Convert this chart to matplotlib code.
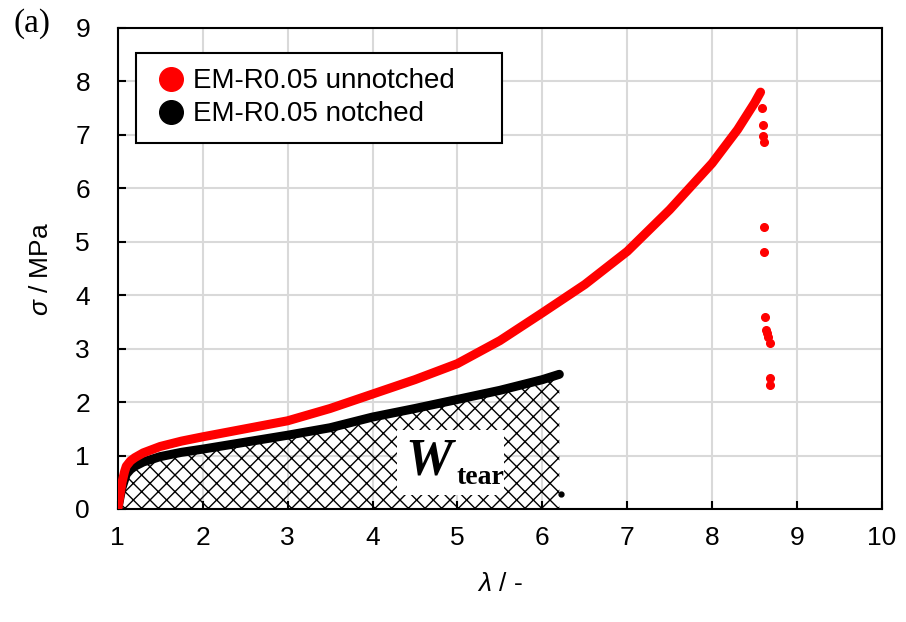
import numpy as np
import matplotlib
matplotlib.use("Agg")
from matplotlib import pyplot as plt
from matplotlib.lines import Line2D
from matplotlib.patches import Rectangle

plt.rcParams['font.family'] = ['Liberation Sans', 'DejaVu Sans']
plt.rcParams['mathtext.fontset'] = 'custom'
plt.rcParams['mathtext.rm'] = 'Liberation Sans'
plt.rcParams['mathtext.it'] = 'Liberation Sans:italic'

# ---- data ----
unnotched_lam = [1.0, 1.03, 1.05, 1.08, 1.1, 1.15, 1.2, 1.3, 1.5, 1.75, 2.0, 2.5, 3.0, 3.5, 4.0,
                 4.5, 5.0, 5.5, 6.0, 6.5, 7.0, 7.5, 8.0, 8.3, 8.5, 8.57]
unnotched_sig = [0.0, 0.3, 0.5, 0.7, 0.8, 0.9, 0.96, 1.05, 1.17, 1.27, 1.35, 1.5, 1.65, 1.88, 2.15,
                 2.42, 2.72, 3.15, 3.67, 4.2, 4.82, 5.6, 6.47, 7.1, 7.6, 7.8]
break_lam = [8.59, 8.6, 8.6, 8.61, 8.61, 8.61, 8.62, 8.63, 8.64, 8.66, 8.68, 8.68, 8.68]
break_sig = [7.5, 7.19, 6.97, 6.87, 5.28, 4.8, 3.6, 3.35, 3.3, 3.22, 3.1, 2.45, 2.32]

notched_lam = [1.0, 1.03, 1.05, 1.08, 1.1, 1.15, 1.2, 1.3, 1.5, 1.75, 2.0, 2.5, 3.0, 3.5, 4.0,
               4.5, 5.0, 5.5, 6.0, 6.2]
notched_sig = [0.0, 0.25, 0.4, 0.55, 0.65, 0.74, 0.8, 0.88, 0.98, 1.06, 1.12, 1.25, 1.38, 1.52, 1.72,
               1.88, 2.05, 2.22, 2.42, 2.52]
notched_end_lam = [6.22]
notched_end_sig = [0.28]

fig = plt.figure(figsize=(9.06, 6.22), dpi=100)
ax = fig.add_axes([0.130, 0.1817, 0.8435, 0.7733])

# hatched tearing energy area under the notched curve
lam = np.array(notched_lam)
sig = np.array(notched_sig)
ax.fill_between(lam, sig, 0, facecolor='none', edgecolor='black', hatch='xx', linewidth=0, zorder=2)

ax.plot(unnotched_lam, unnotched_sig, color='#ff0000', lw=6.5, solid_capstyle='round', zorder=4)
ax.plot(break_lam, break_sig, 'o', color='#ff0000', ms=5.5, zorder=4)
ax.plot(notched_lam, notched_sig, color='black', lw=6.5, solid_capstyle='round', zorder=3)
ax.plot(notched_end_lam, notched_end_sig, 'o', color='black', ms=3.5, zorder=3)

# W_tear label box
ax.add_patch(Rectangle((4.29, 0.27), 1.26, 1.2, facecolor='white', edgecolor='none', zorder=2.5))
ax.text(4.66, 0.88, 'W', fontsize=38, fontweight='bold', fontstyle='italic',
        family=['Liberation Serif'], ha='center', va='center', zorder=5)
ax.text(5.27, 0.58, 'tear', fontsize=20, fontweight='bold',
        family=['Liberation Serif'], ha='center', va='center', zorder=5)

ax.set_xlim(1, 10)
ax.set_ylim(0, 9)
ax.set_xticks(range(1, 11))
ax.set_yticks(range(0, 10))
ax.grid(True, color='#d9d9d9', lw=1.5)
ax.set_axisbelow(True)
for s in ax.spines.values():
    s.set_linewidth(1.5)
    s.set_color('black')
ax.tick_params(direction='in', length=6, width=1.5, labelsize=19)
ax.tick_params(axis='y', pad=20)
ax.tick_params(axis='x', pad=12)

ax.set_xlabel(r'$\it{\lambda}$ / -', fontsize=19, labelpad=16)
ax.set_ylabel(r'$\it{\sigma}$ / MPa', fontsize=19, labelpad=16)

handles = [
    Line2D([], [], marker='o', ls='none', color='#ff0000', ms=17),
    Line2D([], [], marker='o', ls='none', color='black', ms=17),
]
leg = ax.legend(handles, ['EM-R0.05 unnotched', 'EM-R0.05 notched'],
                loc='upper left', bbox_to_anchor=(0.024, 0.761, 0.479, 0.187), mode='expand',
                fontsize=20, frameon=True, fancybox=False, edgecolor='black', framealpha=1,
                handletextpad=0.1, borderpad=0.55, labelspacing=0.25, handlelength=1.4,
                borderaxespad=0)
leg.get_frame().set_linewidth(1.5)
leg.set_zorder(6)

fig.text(0.015, 0.962, '(a)', fontsize=24, family=['Liberation Serif'], va='center')

fig.savefig('out.png', dpi=100)
